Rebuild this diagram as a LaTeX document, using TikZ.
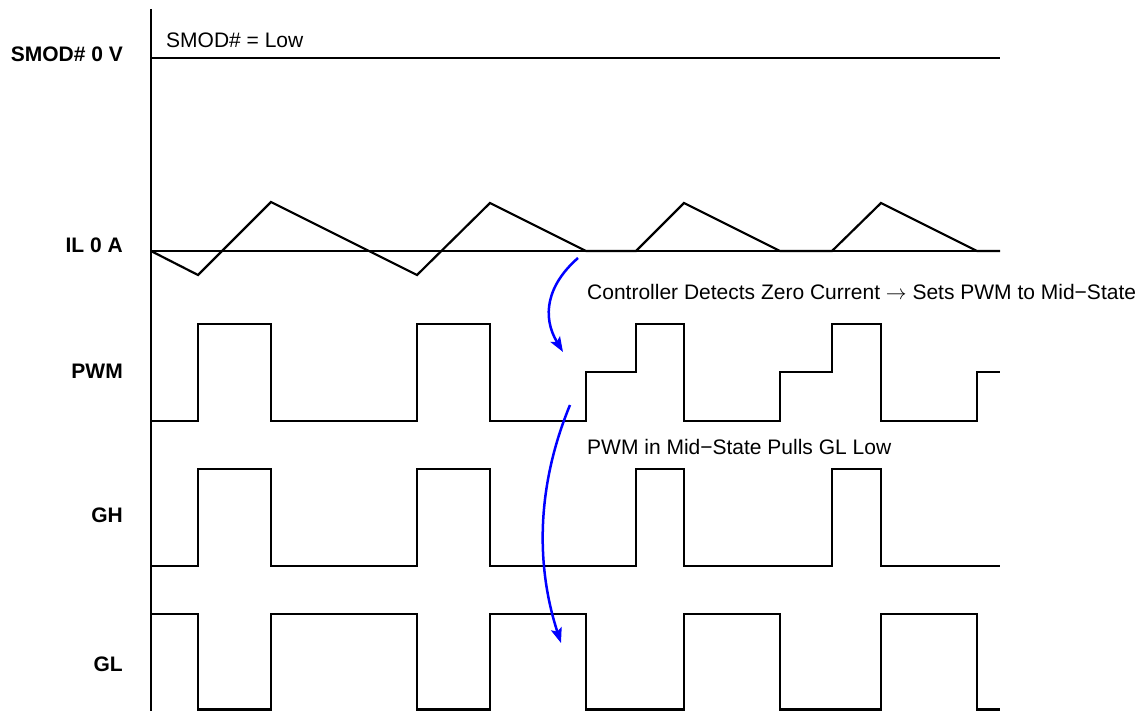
\documentclass[tikz,border=0pt]{standalone}
\usepackage{fontspec}
\setmainfont{Liberation Sans}
\usetikzlibrary{arrows.meta}
\begin{document}
\begin{tikzpicture}[x=1pt,y=-1pt,
  wave/.style={black, line width=2.2pt, line join=miter},
  lab/.style={anchor=base east, font=\fontsize{21}{25}\selectfont\bfseries, inner sep=0pt},
  note/.style={anchor=base west, font=\fontsize{21}{25}\selectfont, inner sep=0pt},
  cause/.style={blue, line width=2.5pt, -{Stealth[length=15pt,width=11pt,inset=3pt]}}]
\useasboundingbox (0,0) rectangle (1146,711);
% axis
\coordinate (axtop) at (151,9);
\coordinate (axbot) at (151,711);
\draw[wave] (axtop) -- (axbot);
% labels
\node[lab] (lsmod) at (123,62) {SMOD\# 0 V};
\node[lab] (lil) at (123,253) {IL 0 A};
\node[lab] (lpwm) at (123,378) {PWM};
\node[lab] (lgh) at (123,522) {GH};
\node[lab] (lgl) at (123,671) {GL};
% SMOD
\draw[wave] (151,58) -- (1000,58);
\node[note] (nsmod) at (166,48) {SMOD\# = Low};
% IL
\draw[wave] (151,251) -- (1000,251);
\draw[wave] (151,251) -- (198,275) -- (271,202) -- (417,275) -- (490,203) -- (586,251)
  -- (636,251) -- (684,203) -- (780,251) -- (832,251) -- (881,203) -- (977,251) -- (1000,251);
% PWM
\draw[wave] (151,421) -- (198,421) -- (198,324) -- (271,324) -- (271,421) -- (417,421)
  -- (417,324) -- (490,324) -- (490,421) -- (586,421) -- (586,372) -- (636,372) -- (636,324)
  -- (684,324) -- (684,421) -- (780,421) -- (780,372) -- (832,372) -- (832,324) -- (881,324)
  -- (881,421) -- (977,421) -- (977,372) -- (1000,372);
% GH
\draw[wave] (151,566) -- (198,566) -- (198,469) -- (271,469) -- (271,566) -- (417,566)
  -- (417,469) -- (490,469) -- (490,566) -- (636,566) -- (636,469) -- (684,469) -- (684,566)
  -- (832,566) -- (832,469) -- (881,469) -- (881,566) -- (1000,566);
% GL
\draw[wave] (151,614) -- (198,614) -- (198,709.5) -- (271,709.5) -- (271,614) -- (417,614)
  -- (417,709.5) -- (490,709.5) -- (490,614) -- (586,614) -- (586,709.5) -- (684,709.5)
  -- (684,614) -- (780,614) -- (780,709.5) -- (881,709.5) -- (881,614) -- (977,614)
  -- (977,709.5) -- (1000,709.5);
% annotations
\node[note] (n1) at (587,300) {Controller Detects Zero Current $\rightarrow$ Sets PWM to Mid−State};
\node[note] (n2) at (587,454) {PWM in Mid−State Pulls GL Low};
\coordinate (a1s) at (578,258);
\coordinate (a1e) at (563,352);
\coordinate (a2s) at (570,405);
\coordinate (a2e) at (561,643);
\draw[cause] (a1s) .. controls (546.7,285.3) and (541.7,316.7) .. (a1e);
\draw[cause] (a2s) .. controls (537.7,483) and (534.7,562.3) .. (a2e);
\end{tikzpicture}
\end{document}
